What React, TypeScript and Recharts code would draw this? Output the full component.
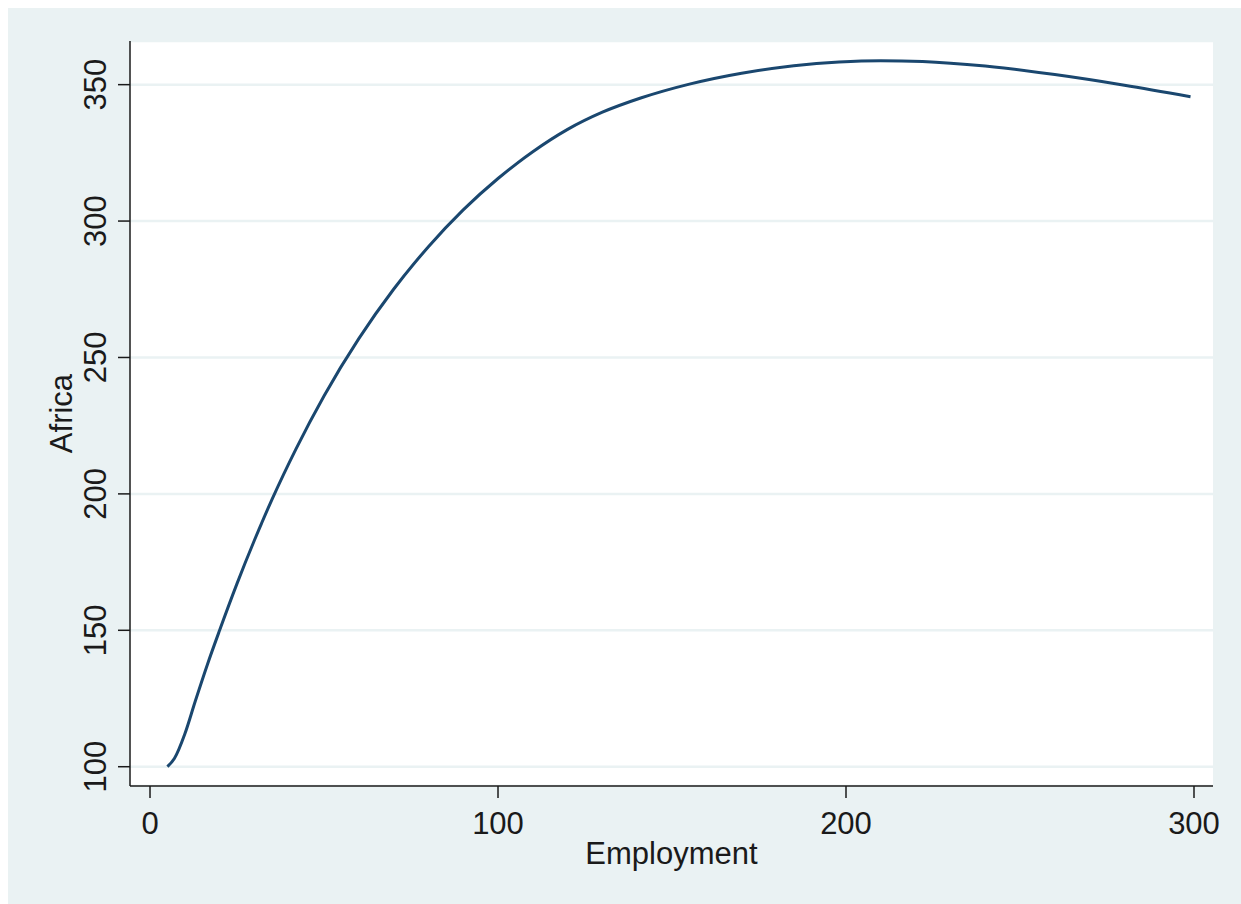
import React from "react";
import { LineChart, Line, XAxis, YAxis, CartesianGrid, Label } from "recharts";

const employment = [5, 7, 10, 13, 16.5, 20, 25, 30, 35, 42, 50, 60, 70, 80, 90, 100, 110, 120, 130, 141, 155, 170, 185, 198, 210, 222, 240, 260, 280, 299];
const africa = [100, 103, 112, 124, 137.5, 150, 167.1, 183, 197.8, 216.6, 235.9, 256.9, 275, 290.6, 304.1, 315.6, 325.4, 333.6, 339.9, 345.1, 350.2, 354.2, 356.9, 358.3, 358.8, 358.5, 356.8, 353.7, 349.8, 345.6];
const xTicks = [0, 100, 200, 300];
const yTicks = [100, 150, 200, 250, 300, 350];

const data = employment.map((x, i) => ({ x, y: africa[i] }));

const FONT = "'Liberation Sans', Arial, Helvetica, sans-serif";
const BG = "#eaf2f3";
const INK = "#1a1a1a";

const XTick = (props: any) => {
  const { x, y, payload } = props;
  return (
    <text x={x} y={y + 36} textAnchor="middle" fontFamily={FONT} fontSize={31} fill={INK}>
      {payload.value}
    </text>
  );
};

const YTick = (props: any) => {
  const { x, y, payload } = props;
  const bx = x - 11.5;
  return (
    <text x={bx} y={y} textAnchor="middle" transform={`rotate(-90, ${bx}, ${y})`} fontFamily={FONT} fontSize={31} fill={INK}>
      {payload.value}
    </text>
  );
};

export default function App() {
  return (
    <div style={{ position: "fixed", left: 8, top: 8, width: 1233, height: 896, background: BG }}>
      <LineChart width={1233} height={896} data={data} margin={{ top: 33, right: 28, bottom: 38, left: 42 }}>
        <CartesianGrid vertical={false} horizontal={true} stroke={BG} strokeWidth={2.5} fill="#ffffff" fillOpacity={1} />
        <XAxis
          dataKey="x"
          type="number"
          domain={[-5.75, 305.46]}
          ticks={xTicks}
          allowDataOverflow
          height={80}
          tickSize={12}
          tickMargin={0}
          tick={<XTick />}
          axisLine={{ stroke: INK, strokeWidth: 1.5 }}
          tickLine={{ stroke: INK, strokeWidth: 1.5 }}
        >
          <Label
            content={(p: any) => {
              const vb = p.viewBox;
              return (
                <text x={vb.x + vb.width / 2} y={vb.y + 78} textAnchor="middle" fontFamily={FONT} fontSize={31} fill={INK}>
                  Employment
                </text>
              );
            }}
          />
        </XAxis>
        <YAxis
          type="number"
          domain={[92.93, 366.0]}
          ticks={yTicks}
          allowDataOverflow
          width={80}
          tickSize={12}
          tickMargin={0}
          tick={<YTick />}
          axisLine={{ stroke: INK, strokeWidth: 1.5 }}
          tickLine={{ stroke: INK, strokeWidth: 1.5 }}
        >
          <Label
            content={(p: any) => {
              const vb = p.viewBox;
              const bx = vb.x + 21.7;
              const cy = vb.y + vb.height / 2;
              return (
                <text x={bx} y={cy} textAnchor="middle" transform={`rotate(-90, ${bx}, ${cy})`} fontFamily={FONT} fontSize={31} fill={INK}>
                  Africa
                </text>
              );
            }}
          />
        </YAxis>
        <Line type="monotone" dataKey="y" stroke="#1a476f" strokeWidth={3} dot={false} isAnimationActive={false} />
      </LineChart>
    </div>
  );
}
